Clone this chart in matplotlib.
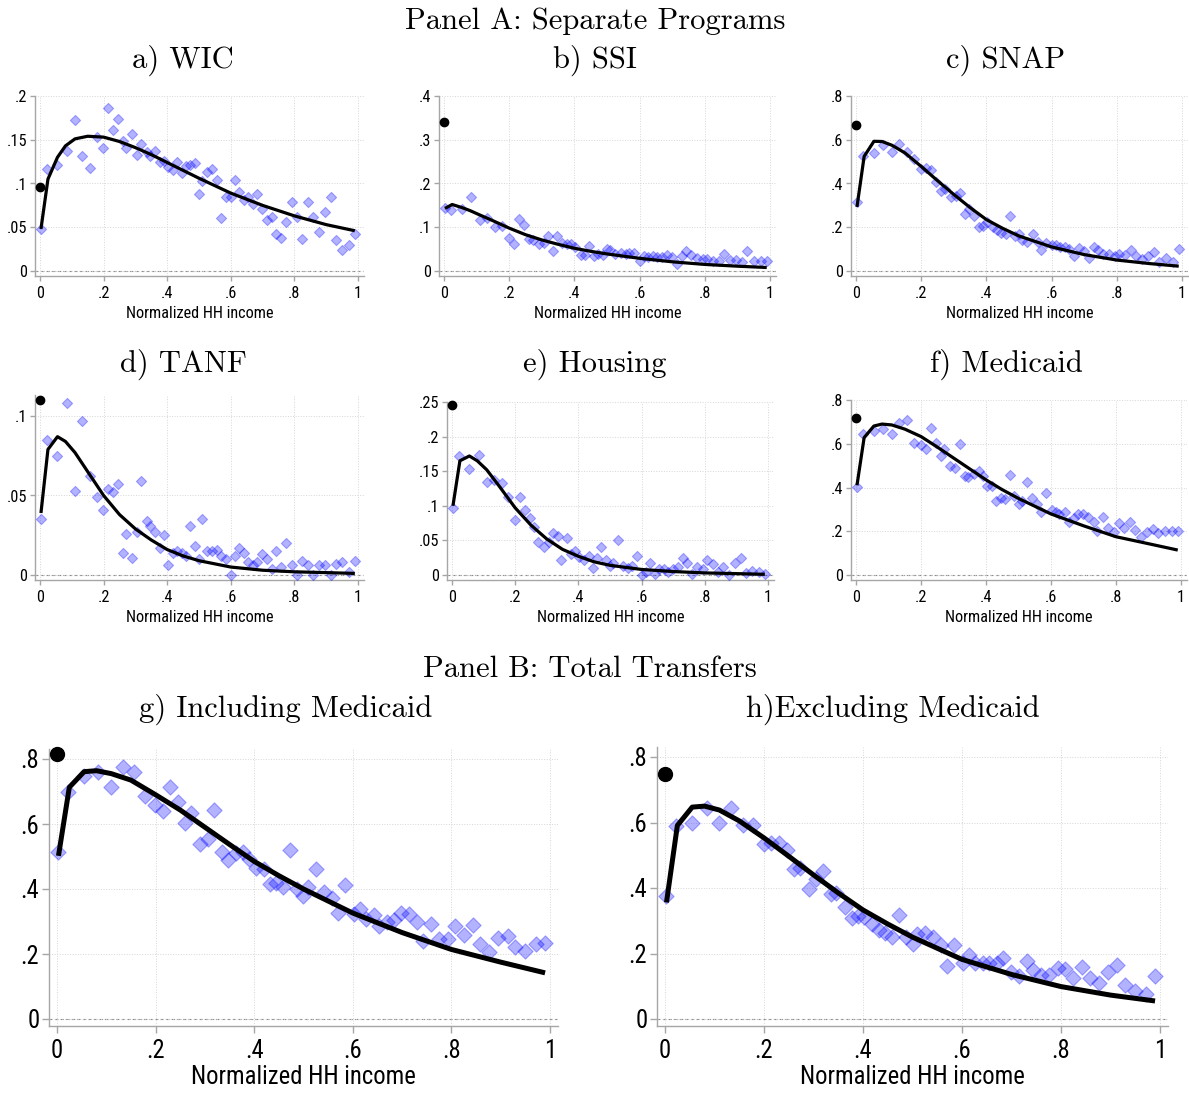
import matplotlib
matplotlib.use("Agg")
import matplotlib.pyplot as plt
from matplotlib import font_manager

# bin centres of normalized HH income (same bins in every panel)
x_bins = [0.002, 0.023, 0.054, 0.084, 0.11, 0.133, 0.157, 0.178, 0.199, 0.215,
          0.23, 0.246, 0.26, 0.272, 0.29, 0.306, 0.319, 0.335, 0.346, 0.363,
          0.377, 0.39, 0.403, 0.419, 0.432, 0.445, 0.459, 0.473, 0.487, 0.5,
          0.51, 0.526, 0.542, 0.557, 0.569, 0.584, 0.602, 0.614, 0.626, 0.642,
          0.654, 0.67, 0.683, 0.698, 0.715, 0.731, 0.743, 0.759, 0.775, 0.793,
          0.808, 0.825, 0.843, 0.859, 0.877, 0.895, 0.914, 0.93, 0.95, 0.971, 0.99]

# x where the fitted curve is evaluated
fit_x = [0.003, 0.025, 0.055, 0.08, 0.11, 0.15, 0.2, 0.25, 0.3, 0.35, 0.4, 0.45,
         0.5, 0.6, 0.7, 0.8, 0.9, 0.99]

# binned take-up rates
wic = [0.048, 0.116, 0.121, 0.137, 0.172, 0.131, 0.118, 0.153, 0.140, 0.186,
       0.161, 0.174, 0.148, 0.141, 0.157, 0.133, 0.145, 0.136, 0.131, 0.137,
       0.125, 0.126, 0.119, 0.115, 0.125, 0.112, 0.120, 0.121, 0.123, 0.088,
       0.103, 0.113, 0.116, 0.104, 0.060, 0.085, 0.084, 0.104, 0.090, 0.081,
       0.084, 0.076, 0.088, 0.071, 0.058, 0.062, 0.042, 0.038, 0.056, 0.079,
       0.062, 0.037, 0.079, 0.062, 0.045, 0.067, 0.085, 0.035, 0.024, 0.030, 0.042]
ssi = [0.144, 0.140, 0.142, 0.169, 0.116, 0.121, 0.100, 0.103, 0.075, 0.061,
       0.118, 0.106, 0.074, 0.072, 0.061, 0.064, 0.081, 0.046, 0.079, 0.065,
       0.061, 0.062, 0.055, 0.036, 0.036, 0.057, 0.034, 0.038, 0.036, 0.051,
       0.049, 0.038, 0.041, 0.040, 0.041, 0.042, 0.024, 0.034, 0.032, 0.034,
       0.032, 0.032, 0.036, 0.032, 0.017, 0.034, 0.046, 0.036, 0.030, 0.027,
       0.028, 0.024, 0.022, 0.038, 0.026, 0.026, 0.021, 0.045, 0.024, 0.022, 0.022]
snap = [0.316, 0.524, 0.540, 0.575, 0.544, 0.582, 0.544, 0.511, 0.468, 0.473,
        0.463, 0.407, 0.366, 0.377, 0.338, 0.345, 0.357, 0.262, 0.285, 0.250,
        0.201, 0.204, 0.224, 0.201, 0.186, 0.174, 0.168, 0.250, 0.159, 0.168,
        0.143, 0.133, 0.168, 0.133, 0.095, 0.130, 0.117, 0.117, 0.110, 0.110,
        0.102, 0.067, 0.107, 0.091, 0.061, 0.110, 0.095, 0.079, 0.076, 0.069,
        0.079, 0.072, 0.098, 0.067, 0.056, 0.069, 0.087, 0.041, 0.061, 0.041, 0.102]
tanf = [0.035, 0.085, 0.075, 0.108, 0.053, 0.097, 0.062, 0.049, 0.041, 0.054,
        0.052, 0.057, 0.014, 0.026, 0.011, 0.027, 0.059, 0.034, 0.031, 0.027,
        0.017, 0.025, 0.006, 0.014, 0.015, 0.014, 0.012, 0.031, 0.018, 0.010,
        0.035, 0.015, 0.015, 0.016, 0.012, 0.010, 0.000, 0.012, 0.017, 0.014,
        0.008, 0.006, 0.008, 0.013, 0.010, 0.004, 0.015, 0.005, 0.020, 0.006,
        0.000, 0.009, 0.006, 0.000, 0.006, 0.006, 0.000, 0.007, 0.008, 0.002, 0.009]
housing = [0.097, 0.172, 0.153, 0.174, 0.134, 0.138, 0.133, 0.113, 0.080, 0.113,
           0.094, 0.082, 0.070, 0.048, 0.041, 0.048, 0.060, 0.057, 0.021, 0.054,
           0.030, 0.035, 0.026, 0.022, 0.028, 0.010, 0.024, 0.040, 0.021, 0.013,
           0.018, 0.051, 0.013, 0.010, 0.013, 0.027, 0.000, 0.004, 0.017, 0.001,
           0.008, 0.009, 0.004, 0.009, 0.011, 0.024, 0.017, 0.001, 0.011, 0.009,
           0.022, 0.016, 0.004, 0.011, 0.000, 0.018, 0.024, 0.003, 0.006, 0.005, 0.001]
medicaid = [0.403, 0.643, 0.659, 0.666, 0.646, 0.694, 0.709, 0.602, 0.593, 0.578,
            0.674, 0.605, 0.544, 0.575, 0.499, 0.487, 0.598, 0.453, 0.446, 0.461,
            0.476, 0.453, 0.405, 0.408, 0.339, 0.354, 0.347, 0.458, 0.362, 0.324,
            0.339, 0.423, 0.354, 0.324, 0.286, 0.377, 0.298, 0.289, 0.278, 0.286,
            0.243, 0.259, 0.278, 0.281, 0.266, 0.243, 0.202, 0.266, 0.213, 0.195,
            0.240, 0.217, 0.243, 0.207, 0.172, 0.195, 0.210, 0.190, 0.202, 0.202, 0.202]
incl_medicaid = [0.514, 0.699, 0.749, 0.761, 0.715, 0.776, 0.761, 0.687, 0.658, 0.641,
                 0.715, 0.668, 0.603, 0.635, 0.538, 0.553, 0.643, 0.514, 0.489, 0.512,
                 0.514, 0.492, 0.466, 0.461, 0.414, 0.420, 0.407, 0.520, 0.399, 0.378,
                 0.407, 0.463, 0.391, 0.373, 0.327, 0.411, 0.322, 0.339, 0.308, 0.319,
                 0.286, 0.298, 0.306, 0.327, 0.322, 0.298, 0.240, 0.291, 0.245, 0.245,
                 0.286, 0.260, 0.288, 0.232, 0.206, 0.250, 0.255, 0.222, 0.209, 0.232, 0.234]
excl_medicaid = [0.376, 0.589, 0.600, 0.644, 0.600, 0.644, 0.591, 0.591, 0.533, 0.536,
                 0.538, 0.516, 0.459, 0.461, 0.396, 0.426, 0.453, 0.381, 0.386, 0.341,
                 0.308, 0.316, 0.311, 0.291, 0.273, 0.264, 0.251, 0.319, 0.251, 0.229,
                 0.259, 0.263, 0.251, 0.226, 0.162, 0.226, 0.171, 0.196, 0.172, 0.172,
                 0.171, 0.171, 0.185, 0.145, 0.130, 0.177, 0.150, 0.135, 0.135, 0.155,
                 0.152, 0.125, 0.160, 0.125, 0.110, 0.142, 0.165, 0.105, 0.085, 0.075, 0.132]

# fitted curves
wic_fit = [0.048, 0.105, 0.130, 0.143, 0.151, 0.154, 0.153, 0.148, 0.141, 0.133,
           0.124, 0.115, 0.106, 0.089, 0.075, 0.063, 0.053, 0.046]
ssi_fit = [0.143, 0.152, 0.145, 0.138, 0.128, 0.115, 0.098, 0.083, 0.071, 0.061,
           0.052, 0.045, 0.039, 0.029, 0.021, 0.015, 0.011, 0.008]
snap_fit = [0.293, 0.524, 0.593, 0.592, 0.575, 0.540, 0.478, 0.413, 0.350, 0.290,
            0.235, 0.195, 0.160, 0.110, 0.075, 0.050, 0.034, 0.022]
tanf_fit = [0.039, 0.079, 0.087, 0.084, 0.077, 0.065, 0.050, 0.038, 0.029, 0.022,
            0.016, 0.012, 0.009, 0.005, 0.003, 0.002, 0.0015, 0.001]
housing_fit = [0.100, 0.165, 0.172, 0.165, 0.152, 0.128, 0.097, 0.072, 0.052, 0.037,
               0.027, 0.019, 0.014, 0.008, 0.005, 0.003, 0.002, 0.001]
medicaid_fit = [0.410, 0.628, 0.681, 0.690, 0.686, 0.667, 0.633, 0.585, 0.535, 0.485,
                0.435, 0.390, 0.350, 0.279, 0.225, 0.175, 0.143, 0.114]
incl_fit = [0.502, 0.713, 0.761, 0.764, 0.755, 0.735, 0.690, 0.643, 0.590, 0.537,
            0.485, 0.441, 0.400, 0.326, 0.266, 0.214, 0.175, 0.142]
excl_fit = [0.356, 0.591, 0.647, 0.650, 0.638, 0.605, 0.553, 0.497, 0.440, 0.385,
            0.333, 0.290, 0.250, 0.182, 0.136, 0.099, 0.073, 0.055]

# value at zero income
zero_vals = [0.096, 0.34, 0.669, 0.110, 0.246, 0.716, 0.815, 0.749]

titles = ["a) WIC", "b) SSI", "c) SNAP", "d) TANF", "e) Housing", "f) Medicaid",
          "g) Including Medicaid", "h)Excluding Medicaid"]
yticks = [[0, 0.05, 0.1, 0.15, 0.2], [0, 0.1, 0.2, 0.3, 0.4], [0, 0.2, 0.4, 0.6, 0.8],
          [0, 0.05, 0.1], [0, 0.05, 0.1, 0.15, 0.2, 0.25], [0, 0.2, 0.4, 0.6, 0.8],
          [0, 0.2, 0.4, 0.6, 0.8], [0, 0.2, 0.4, 0.6, 0.8]]
xticks = [0, 0.2, 0.4, 0.6, 0.8, 1]

series = [wic, ssi, snap, tanf, housing, medicaid, incl_medicaid, excl_medicaid]
fits = [wic_fit, ssi_fit, snap_fit, tanf_fit, housing_fit, medicaid_fit, incl_fit, excl_fit]

# layout in pixels: x=0 px, x=1 px, y=0 px, top tick px, top tick value, axis top value
layout = [(40, 358, 271, 96, 0.2, 0.2), (444, 770, 271, 96, 0.4, 0.4),
          (856, 1182, 271, 96, 0.8, 0.8),
          (40, 358, 575, 416, 0.1, 0.113), (452, 768, 575, 402, 0.25, 0.25),
          (856, 1181, 575, 400, 0.8, 0.8),
          (57, 550, 1019, 759, 0.8, 0.83), (665, 1160, 1019, 757, 0.8, 0.83)]
title_pos = [(183, 60), (595, 60), (1006, 60), (183, 364), (595, 364), (1006, 364),
             (286, 709), (893, 709)]

W, H = 1189, 1094
SERIF = "cmr10"

# pick a narrow sans face if one is installed
sans_prop = None
for f in font_manager.fontManager.ttflist:
    if f.name in ("Liberation Sans Narrow", "Roboto Condensed", "Arial Narrow") and f.weight in (400, "normal", "regular") and f.style == "normal":
        sans_prop = font_manager.FontProperties(fname=f.fname)
        break
if sans_prop is None:
    for f in font_manager.fontManager.ttflist:
        if f.name == "DejaVu Sans" and f.stretch == "condensed" and f.style == "normal" and f.weight in (400, "normal"):
            sans_prop = font_manager.FontProperties(fname=f.fname)
            break
if sans_prop is None:
    sans_prop = font_manager.FontProperties(family="Liberation Sans")


def fmt(v):
    s = f"{v:g}"
    return s[1:] if s.startswith("0.") else s


fig = plt.figure(figsize=(W / 100, H / 100), dpi=100)

# size the sans text so "Normalized HH income" has the reference width
renderer = fig.canvas.get_renderer()
probe = fig.text(0, 0, "Normalized HH income", fontproperties=sans_prop, fontsize=10)
probe_w = probe.get_window_extent(renderer).width
probe.remove()
fs_small = 10 * 148 / probe_w
fs_big = 10 * 224 / probe_w

for i in range(8):
    x0, x1, y0, ytp, ytv, topv = layout[i]
    big = i >= 6
    sx = x1 - x0
    sy = (y0 - ytp) / ytv
    lpad, rpad, bpad = (8, 8, 7) if big else (5, 6, 5)
    left, right = x0 - lpad, x1 + rpad
    bottom, top = y0 + bpad, y0 - topv * sy
    ax = fig.add_axes([left / W, 1 - bottom / H, (right - left) / W, (bottom - top) / H])
    ax.set_xlim(-lpad / sx, 1 + rpad / sx)
    ax.set_ylim(-bpad / sy, topv)

    fs = fs_big if big else fs_small
    ms = 7.8 if big else 5.2
    ax.scatter(x_bins, series[i], marker="D", s=ms ** 2, color="blue", alpha=0.3,
               linewidths=0.8, zorder=3, clip_on=False)
    ax.plot(fit_x, fits[i], color="black", lw=3.6 if big else 2.3, zorder=4,
            solid_joinstyle="round", solid_capstyle="butt")
    ax.plot([0], [zero_vals[i]], "o", color="black", ms=10 if big else 6, zorder=5,
            clip_on=False)
    ax.axhline(0, color="#8c8c8c", lw=0.8, ls=(0, (3, 2)), zorder=1)

    ax.set_xticks(xticks)
    ax.set_xticklabels([fmt(v) for v in xticks])
    ax.set_yticks(yticks[i])
    ax.set_yticklabels([fmt(v) for v in yticks[i]])
    ax.grid(True, color="#d6d6d6", lw=0.7, ls=":", zorder=0)
    for s in ["top", "right"]:
        ax.spines[s].set_visible(False)
    for s in ["left", "bottom"]:
        ax.spines[s].set_color("#a6a6a6")
        ax.spines[s].set_linewidth(1.0)
    ax.tick_params(colors="#a6a6a6", labelcolor="black", length=5 if big else 3.5,
                   width=1.0, labelsize=fs)
    ax.tick_params(axis="x", pad=4 if big else 3.5)
    ax.tick_params(axis="y", pad=2)
    for lab in ax.get_xticklabels() + ax.get_yticklabels():
        lab.set_fontproperties(sans_prop)
        lab.set_fontsize(fs)
    ax.set_xlabel("Normalized HH income", fontproperties=sans_prop, fontsize=fs,
                  labelpad=1.5 if big else 3.5)

    tx, ty = title_pos[i]
    fig.text(tx / W, 1 - ty / H, titles[i], ha="center", va="center", fontsize=22,
             family=SERIF)

fig.text(595 / W, 1 - 21 / H, "Panel A: Separate Programs", ha="center", va="center",
         fontsize=22, family=SERIF)
fig.text(590 / W, 1 - 669 / H, "Panel B: Total Transfers", ha="center", va="center",
         fontsize=22, family=SERIF)

fig.savefig("out.png", dpi=100)
